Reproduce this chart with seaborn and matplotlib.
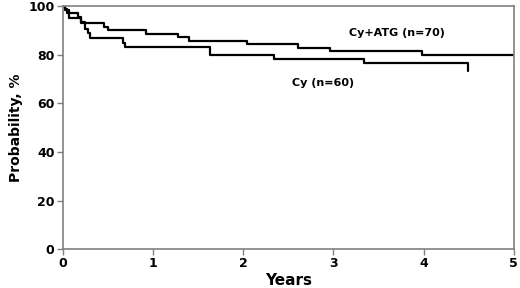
import pandas as pd
import matplotlib
matplotlib.use('Agg')
import matplotlib.pyplot as plt
import seaborn as sns

# Kaplan-Meier step points
atg_years = [0, 0.02, 0.05, 0.17, 0.20, 0.46, 0.50, 0.92, 1.28, 1.40, 2.04, 2.61, 2.96, 3.98, 5.0]
atg_prob = [100, 98.6, 97.1, 95.7, 92.9, 91.4, 90.0, 88.6, 87.1, 85.7, 84.3, 82.9, 81.4, 80.0, 80.0]

cy_years = [0, 0.02, 0.07, 0.20, 0.24, 0.28, 0.30, 0.67, 0.69, 1.63, 2.34, 3.34, 4.49]
cy_prob = [100, 98.3, 95.0, 93.3, 90.7, 89.0, 86.7, 85.0, 83.3, 80.0, 78.3, 76.7, 73.3]

sns.set_style('white')
plt.rcParams['font.family'] = ['DejaVu Sans']
plt.rcParams['text.color'] = 'black'
plt.rcParams['axes.labelcolor'] = 'black'
plt.rcParams['xtick.color'] = 'black'
plt.rcParams['ytick.color'] = 'black'

atg = pd.DataFrame({'Years': atg_years, 'Probability': atg_prob})
cy = pd.DataFrame({'Years': cy_years, 'Probability': cy_prob})

fig = plt.figure(figsize=(5.2, 2.88), dpi=100)
ax = fig.add_axes([0.121, 0.135, 0.867, 0.844])

sns.lineplot(data=atg, x='Years', y='Probability', color='black', linewidth=1.6,
             drawstyle='steps-post', estimator=None, ax=ax)
sns.lineplot(data=cy, x='Years', y='Probability', color='black', linewidth=1.6,
             drawstyle='steps-post', estimator=None, ax=ax)

ax.text(3.70, 88.8, 'Cy+ATG (n=70)', ha='center', va='center', fontsize=8, fontweight='bold')
ax.text(2.88, 68.4, 'Cy (n=60)', ha='center', va='center', fontsize=8, fontweight='bold')

ax.set_xlim(0, 5)
ax.set_ylim(0, 100)
ax.set_xticks([0, 1, 2, 3, 4, 5])
ax.set_yticks([0, 20, 40, 60, 80, 100])
ax.set_xlabel('Years', fontsize=11, fontweight='bold', labelpad=2)
ax.set_ylabel('Probability, %', fontsize=10, fontweight='bold', labelpad=4)
for lbl in ax.get_xticklabels() + ax.get_yticklabels():
    lbl.set_fontweight('bold')
ax.tick_params(axis='both', direction='out', length=4, width=1, color='#808080',
               labelcolor='black', labelsize=9, bottom=True, left=True, pad=2)
for s in ax.spines.values():
    s.set_color('#808080')
    s.set_linewidth(1.2)

fig.savefig('out.png', dpi=100)
